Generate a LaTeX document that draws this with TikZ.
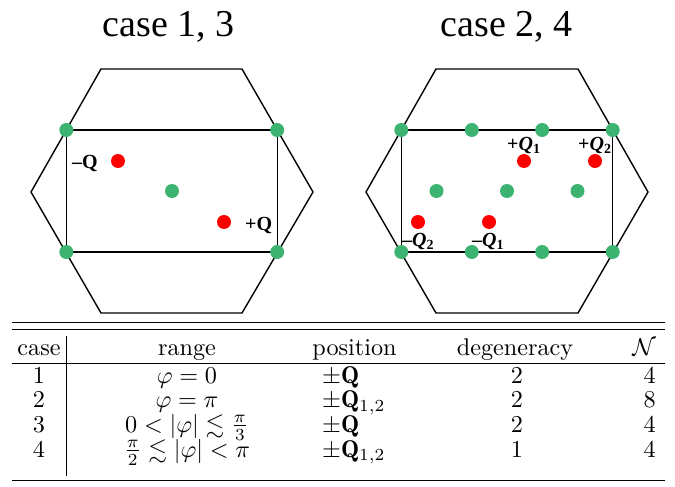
\RequirePackage{fix-cm}
\documentclass[tikz,border=0pt]{standalone}
\usepackage{graphicx}
\usepackage{amsmath,amssymb}
\usepackage{fontspec}
\newfontfamily\tms{Liberation Serif}
\definecolor{dotgreen}{RGB}{60,179,113}
\definecolor{dotred}{RGB}{255,0,0}
\newcommand{\tcell}[1]{\scalebox{2.42}{\fontsize{10}{12}\selectfont #1}}
\begin{document}
\begin{tikzpicture}[x=1pt,y=-1pt,
  gdot/.style={circle,fill=dotgreen,minimum size=14pt,inner sep=0pt},
  rdot/.style={circle,fill=dotred,minimum size=14pt,inner sep=0pt},
  zone/.style={line width=1.4pt,line join=miter},
  labA/.style={font=\tms\bfseries\fontsize{20}{20}\selectfont,inner sep=0pt,anchor=base west},
  labB/.style={font=\tms\bfseries\fontsize{20}{20}\selectfont,inner sep=0pt,anchor=base west},
  ttl/.style={font=\tms\fontsize{38}{38}\selectfont,anchor=base,inner sep=0pt},
  cell/.style={anchor=base,inner sep=0pt},
  cellL/.style={cell,anchor=base west},
  cellR/.style={cell,anchor=base east},
  trule/.style={line width=0.9pt}]
\useasboundingbox (0,0) rectangle (675,487);

% titles
\node[ttl] (t1) at (168.5,37) {case 1, 3};
\node[ttl] (t2) at (506.5,37) {case 2, 4};

% left panel
\draw[zone] (101,69) -- (242,69) -- (313,192) -- (242,313) -- (101,313) -- (31,192) -- cycle;
\draw[zone] (66.3,130) rectangle (277.2,252);
\node[gdot] (lg1) at (66.3,130) {};
\node[gdot] (lg2) at (277.2,130) {};
\node[gdot] (lg3) at (66.3,252) {};
\node[gdot] (lg4) at (277.2,252) {};
\node[gdot] (lg5) at (172,191) {};
\node[rdot] (lr1) at (118,161) {};
\node[rdot] (lr2) at (224,222) {};
\node[labA] (lq1) at (72,168) {–Q};
\node[labA] (lq2) at (245,230) {+Q};

% right panel
\draw[zone] (436,69) -- (578,69) -- (648,192) -- (578,313) -- (436,313) -- (366,192) -- cycle;
\draw[zone] (401.3,130) rectangle (612.7,252);
\foreach \x [count=\i] in {401.3,471.8,542.2,612.7}{
  \node[gdot] (rgt\i) at (\x,130) {};
  \node[gdot] (rgb\i) at (\x,252) {};
}
\node[gdot] (rgm1) at (436.5,191) {};
\node[gdot] (rgm2) at (507,191) {};
\node[gdot] (rgm3) at (577.5,191) {};
\node[rdot] (rr1) at (524,161) {};
\node[rdot] (rr2) at (595,161) {};
\node[rdot] (rr3) at (418,222) {};
\node[rdot] (rr4) at (489,222) {};
\node[labB] (rq1) at (507,150) {+\textit{Q}\textsubscript{1}};
\node[labB] (rq2) at (578,150) {+\textit{Q}\textsubscript{2}};
\node[labB] (rq3) at (402,246) {–\textit{Q}\textsubscript{2}};
\node[labB] (rq4) at (472,246) {–\textit{Q}\textsubscript{1}};

% table rules
\draw[trule] (12,322.3) -- (665,322.3);
\draw[trule] (12,329) -- (665,329);
\draw[trule] (12,363.3) -- (665,363.3);
\draw[trule] (12,480.7) -- (665,480.7);
\draw[line width=0.8pt] (66.7,336) -- (66.7,476);

% header
\node[cell] (hc) at (39,355) {\tcell{case}};
\node[cell] (hr) at (187,355) {\tcell{range}};
\node[cell] (hp) at (354.5,355) {\tcell{position}};
\node[cell] (hd) at (515,355) {\tcell{degeneracy}};
\node[cellR] (hn) at (656,355) {\tcell{$\mathcal{N}$}};

% rows
\node[cell] (c1) at (39,383) {\tcell{1}};
\node[cell] (r1) at (187,383) {\tcell{$\varphi=0$}};
\node[cellL] (p1) at (322,383) {\tcell{$\pm\mathbf{Q}$}};
\node[cell] (d1) at (517,383) {\tcell{2}};
\node[cellR] (n1) at (656,383) {\tcell{4}};

\node[cell] (c2) at (39,407.5) {\tcell{2}};
\node[cell] (r2) at (187,407.5) {\tcell{$\varphi=\pi$}};
\node[cellL] (p2) at (322,407.5) {\tcell{$\pm\mathbf{Q}_{1,2}$}};
\node[cell] (d2) at (517,407.5) {\tcell{2}};
\node[cellR] (n2) at (656,407.5) {\tcell{8}};

\node[cell] (c3) at (39,432) {\tcell{3}};
\node[cell] (r3) at (187,432) {\tcell{$0<|\varphi|\lesssim\frac{\pi}{3}$}};
\node[cellL] (p3) at (322,432) {\tcell{$\pm\mathbf{Q}$}};
\node[cell] (d3) at (517,432) {\tcell{2}};
\node[cellR] (n3) at (656,432) {\tcell{4}};

\node[cell] (c4) at (39,457) {\tcell{4}};
\node[cell] (r4) at (187,457) {\tcell{$\frac{\pi}{2}\lesssim|\varphi|<\pi$}};
\node[cellL] (p4) at (322,457) {\tcell{$\pm\mathbf{Q}_{1,2}$}};
\node[cell] (d4) at (517,457) {\tcell{1}};
\node[cellR] (n4) at (656,457) {\tcell{4}};
\end{tikzpicture}
\end{document}
